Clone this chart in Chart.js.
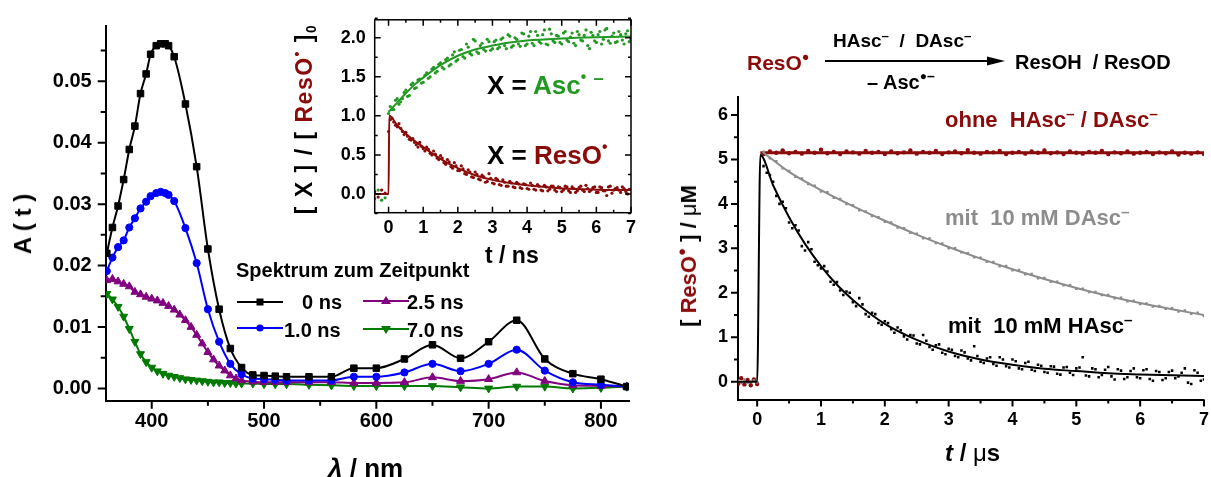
<!DOCTYPE html>
<html>
<head>
<meta charset="utf-8">
<script src="https://cdn.jsdelivr.net/npm/chart.js@4.4.1/dist/chart.umd.min.js"></script>
<style>
  body { margin: 0; background: #fff; width: 1211px; height: 477px; position: relative; overflow: hidden;
         font-family: "Liberation Sans", Arial, sans-serif; font-weight: bold; color: #000; }
  .box { position: absolute; }
  .t { position: absolute; white-space: nowrap; line-height: 1; font-weight: bold; }
  .rot { transform: translate(-50%, -50%) rotate(-90deg); }
  .red { color: #8b0a0a; }
  .up { position: relative; font-size: 0.7em; top: -0.55em; }
  .dot { position: relative; font-size: 0.6em; top: -0.75em; }
</style>
</head>
<body>
<canvas id="mainChart" class="box" style="left:0;top:0" width="660" height="477"></canvas>
<canvas id="insetChart" class="box" style="left:330px;top:0" width="320" height="270"></canvas>
<canvas id="kinChart" class="box" style="left:660px;top:0" width="559" height="477"></canvas>

<!-- main panel texts -->
<div class="t rot" style="left:23px;top:224px;font-size:24px">A ( t )</div>
<div class="t" style="left:328px;top:455px;font-size:26px"><i>λ</i> / nm</div>
<div class="t" style="left:236px;top:260px;font-size:20px">Spektrum zum Zeitpunkt</div>
<svg class="box" style="left:236px;top:294px" width="48" height="16"><line x1="1" y1="8" x2="47" y2="8" stroke="#000" stroke-width="2"/><rect x="20.5" y="4.5" width="7" height="7" fill="#000"/></svg>
<div class="t" style="left:302px;top:292px;font-size:20px">0 ns</div>
<svg class="box" style="left:236px;top:320px" width="48" height="16"><line x1="1" y1="8" x2="47" y2="8" stroke="#0000ff" stroke-width="2"/><circle cx="24" cy="8" r="3.6" fill="#0000ff"/></svg>
<div class="t" style="left:284px;top:320px;font-size:20px">1.0 ns</div>
<svg class="box" style="left:362px;top:293px" width="48" height="16"><line x1="1" y1="8" x2="47" y2="8" stroke="#800080" stroke-width="2"/><polygon points="24,3 29,11 19,11" fill="#800080"/></svg>
<div class="t" style="left:407px;top:292px;font-size:20px">2.5 ns</div>
<svg class="box" style="left:362px;top:321px" width="48" height="16"><line x1="1" y1="8" x2="47" y2="8" stroke="#007a00" stroke-width="2"/><polygon points="24,13 29,5 19,5" fill="#007a00"/></svg>
<div class="t" style="left:407px;top:320px;font-size:20px">7.0 ns</div>

<!-- inset texts -->
<div class="t rot" style="left:304px;top:119px;font-size:23px;letter-spacing:1.5px">[ X ] / [ <span class="red">ResO<span class="dot">•</span></span> ]<span style="font-size:0.6em;position:relative;top:0.3em">0</span></div>
<div class="t" style="left:485px;top:244px;font-size:23px">t / ns</div>
<div class="t" style="left:487px;top:72px;font-size:26px">X = <span style="color:#229922">Asc<span class="dot">•</span> <span class="up">–</span></span></div>
<div class="t" style="left:487px;top:142px;font-size:26px">X = <span class="red">ResO<span class="dot">•</span></span></div>

<!-- kinetics panel texts -->
<div class="t red" style="left:747px;top:52px;font-size:21px">ResO<span class="dot">●</span></div>
<div class="t" style="left:833px;top:31px;font-size:19px">HAsc<span class="up">–</span>&nbsp; / &nbsp;DAsc<span class="up">–</span></div>
<svg class="box" style="left:820px;top:54px" width="190" height="14"><line x1="5" y1="7" x2="172" y2="7" stroke="#000" stroke-width="2"/><polygon points="185,7 167,2.5 167,11.5" fill="#000"/></svg>
<div class="t" style="left:867px;top:72px;font-size:20px">– Asc<span class="dot">●</span><span class="up">–</span></div>
<div class="t" style="left:1015px;top:52px;font-size:20px">ResOH&nbsp; / ResOD</div>
<div class="t red" style="left:945px;top:109px;font-size:22px">ohne&nbsp; HAsc<span class="up">–</span> / DAsc<span class="up">–</span></div>
<div class="t" style="left:945px;top:207px;font-size:22px;color:#8c8c8c">mit&nbsp; 10 mM DAsc<span class="up">–</span></div>
<div class="t" style="left:948px;top:315px;font-size:22px">mit&nbsp; 10 mM HAsc<span class="up">–</span></div>
<div class="t rot" style="left:689px;top:256px;font-size:22px">[ <span class="red">ResO<span class="dot">●</span></span> ] / <span style="font-weight:normal">μ</span>M</div>
<div class="t" style="left:945px;top:441px;font-size:24px"><i>t</i> / <span style="font-weight:normal">μ</span>s</div>

<script>
// ---- spectra (A vs wavelength) ----
const lambdaA = [360, 365, 370, 375, 380, 385, 390, 395, 399, 404, 408, 412, 415, 420, 430, 440, 450, 460, 470, 480,
                 490, 500, 510, 520, 540, 560, 580, 600, 625, 650, 675, 700, 725, 750, 775, 800, 823];
const abs0ns = [0.0220, 0.0262, 0.0297, 0.0340, 0.0389, 0.0427, 0.0480, 0.0512, 0.0544, 0.0558, 0.0561, 0.0561, 0.0558, 0.0540,
                0.0463, 0.0361, 0.0227, 0.0129, 0.0065, 0.0034, 0.0022, 0.0021, 0.0020, 0.0019, 0.0019, 0.0019, 0.0033, 0.0033,
                0.0048, 0.0071, 0.0049, 0.0076, 0.0111, 0.0048, 0.0024, 0.0015, 0.0003];
const abs1ns = [0.0191, 0.0213, 0.0230, 0.0241, 0.0262, 0.0277, 0.0293, 0.0304, 0.0313, 0.0318, 0.0320, 0.0318, 0.0315, 0.0305,
                0.0261, 0.0204, 0.0129, 0.0076, 0.0040, 0.0023, 0.0016, 0.0015, 0.0014, 0.0013, 0.0013, 0.0013, 0.0019, 0.0019,
                0.0026, 0.0040, 0.0028, 0.0040, 0.0063, 0.0029, 0.0010, 0.0006, 0.0003];
const lambdaB = [360, 365, 370, 375, 380, 385, 390, 395, 400, 405, 410, 415, 420, 425, 430, 435, 440, 445, 450, 455, 460, 465,
                 470, 475, 480, 490, 500, 510, 520, 540, 560, 580, 600, 625, 650, 675, 700, 725, 750, 775, 800, 823];
const abs25ns = [0.0176, 0.0178, 0.0174, 0.0170, 0.0166, 0.0157, 0.0153, 0.0149, 0.0146, 0.0143, 0.0139, 0.0134, 0.0128, 0.0120,
                 0.0111, 0.0100, 0.0087, 0.0073, 0.0059, 0.0047, 0.0037, 0.0029, 0.0021, 0.0016, 0.0013, 0.0011, 0.0010, 0.0010,
                 0.0010, 0.0010, 0.0010, 0.0009, 0.0009, 0.0010, 0.0018, 0.0012, 0.0015, 0.0026, 0.0012, 0.0005, 0.0004, 0.0003];
const abs70ns = [0.0154, 0.0145, 0.0133, 0.0117, 0.0097, 0.0076, 0.0056, 0.0043, 0.0034, 0.0028, 0.0024, 0.0021, 0.0019, 0.0017,
                 0.0015, 0.0014, 0.0013, 0.0012, 0.0011, 0.0010, 0.0010, 0.0009, 0.0009, 0.0008, 0.0008, 0.0008, 0.0007, 0.0007,
                 0.0007, 0.0006, 0.0005, 0.0004, 0.0004, 0.0004, 0.0004, 0.0002, 0.0000, 0.0003, 0.0003, 0.0000, 0.0001, 0.0003];
const mainXTicks = [400, 500, 600, 700, 800];
const mainXMinor = [450, 550, 650, 750];
const mainYTicks = [0, 0.01, 0.02, 0.03, 0.04, 0.05];
const mainYMinor = [0.005, 0.015, 0.025, 0.035, 0.045, 0.055];

// ---- inset: [X]/[ResO]0 vs t / ns ----
const insetT = [-0.4, -0.3, -0.2, -0.1, 0,
  0.1, 0.2, 0.3, 0.4, 0.5, 0.6, 0.7, 0.8, 0.9, 1.0, 1.1, 1.2, 1.3, 1.4, 1.5, 1.6, 1.7, 1.8, 1.9, 2.0,
  2.1, 2.2, 2.3, 2.4, 2.5, 2.6, 2.7, 2.8, 2.9, 3.0, 3.1, 3.2, 3.3, 3.4, 3.5, 3.6, 3.7, 3.8, 3.9, 4.0,
  4.1, 4.2, 4.3, 4.4, 4.5, 4.6, 4.7, 4.8, 4.9, 5.0, 5.1, 5.2, 5.3, 5.4, 5.5, 5.6, 5.7, 5.8, 5.9, 6.0,
  6.1, 6.2, 6.3, 6.4, 6.5, 6.6, 6.7, 6.8, 6.9, 7.0];
const ascRel = [-0.06, 0.05, -0.08, -0.05, 1.03,
  1.08, 1.20, 1.15, 1.22, 1.33, 1.26, 1.42, 1.36, 1.47, 1.43, 1.55, 1.50, 1.62, 1.57, 1.68, 1.60, 1.74, 1.66, 1.82, 1.72,
  1.85, 1.74, 1.88, 1.78, 1.96, 1.80, 1.93, 1.83, 1.95, 1.86, 1.97, 1.88, 2.00, 1.86, 2.02, 1.90, 1.98, 1.89, 2.05, 1.92,
  2.08, 1.90, 2.03, 1.93, 2.10, 1.91, 2.05, 1.94, 2.02, 1.92, 2.08, 1.95, 2.06, 1.90, 2.04, 1.96, 2.10, 1.86, 2.03, 1.94,
  2.08, 1.98, 2.12, 1.93, 2.06, 1.95, 2.04, 1.92, 2.09, 1.98];
const resoRel = [0.03, -0.04, 0.05, 0.01, 0.80,
  0.97, 0.88, 0.90, 0.80, 0.79, 0.70, 0.71, 0.63, 0.66, 0.58, 0.60, 0.52, 0.55, 0.46, 0.49, 0.40, 0.44, 0.35, 0.40, 0.30,
  0.36, 0.26, 0.31, 0.22, 0.28, 0.19, 0.24, 0.15, 0.26, 0.14, 0.20, 0.12, 0.18, 0.10, 0.16, 0.09, 0.15, 0.08, 0.13, 0.07,
  0.14, 0.06, 0.12, 0.05, 0.11, 0.04, 0.10, 0.05, 0.09, 0.03, 0.10, 0.04, 0.09, 0.02, 0.08, 0.05, 0.11, 0.03, 0.08, 0.02,
  0.09, 0.04, -0.02, 0.10, 0.05, 0.08, 0.02, 0.07, 0.00, 0.06];
// second, interleaved sampling of the same traces
const insetT2 = [0.05, 0.15, 0.25, 0.35, 0.45, 0.55, 0.65, 0.75, 0.85, 0.95, 1.05, 1.15, 1.25, 1.35, 1.45, 1.55, 1.65, 1.75, 1.85, 1.95,
  2.05, 2.15, 2.25, 2.35, 2.45, 2.55, 2.65, 2.75, 2.85, 2.95, 3.05, 3.15, 3.25, 3.35, 3.45, 3.55, 3.65, 3.75, 3.85, 3.95,
  4.05, 4.15, 4.25, 4.35, 4.45, 4.55, 4.65, 4.75, 4.85, 4.95, 5.05, 5.15, 5.25, 5.35, 5.45, 5.55, 5.65, 5.75, 5.85, 5.95,
  6.05, 6.15, 6.25, 6.35, 6.45, 6.55, 6.65, 6.75, 6.85, 6.95];
const ascRel2 = [1.12, 1.08, 1.22, 1.18, 1.30, 1.25, 1.40, 1.35, 1.46, 1.42, 1.52, 1.48, 1.60, 1.55, 1.66, 1.62, 1.72, 1.64, 1.78, 1.70,
  1.84, 1.76, 1.92, 1.80, 1.98, 1.82, 1.90, 1.85, 1.98, 1.84, 1.95, 1.86, 1.98, 1.90, 2.04, 1.88, 2.00, 1.92, 2.06, 1.90,
  2.02, 1.93, 2.08, 1.95, 2.04, 1.92, 2.11, 1.96, 2.03, 1.94, 2.06, 1.97, 2.01, 1.93, 2.08, 1.97, 2.03, 1.90, 2.07, 1.96,
  2.04, 1.92, 2.10, 1.96, 2.02, 1.94, 2.08, 1.97, 2.05, 1.95];
const resoRel2 = [0.95, 0.92, 0.86, 0.84, 0.76, 0.74, 0.69, 0.66, 0.60, 0.61, 0.55, 0.57, 0.50, 0.51, 0.44, 0.46, 0.38, 0.41, 0.33, 0.36,
  0.30, 0.32, 0.25, 0.28, 0.21, 0.25, 0.18, 0.22, 0.16, 0.20, 0.13, 0.18, 0.11, 0.15, 0.10, 0.14, 0.08, 0.13, 0.07, 0.12,
  0.06, 0.11, 0.05, 0.10, 0.04, 0.09, 0.06, 0.10, 0.03, 0.08, 0.05, 0.09, 0.02, 0.07, 0.04, 0.10, 0.03, 0.07, 0.05, 0.09,
  0.02, 0.08, 0.04, 0.09, 0.01, 0.07, 0.05, 0.09, 0.03, 0.06];
const ascFitT = [0, 0.25, 0.5, 0.75, 1, 1.5, 2, 2.5, 3, 3.5, 4, 5, 6, 7];
const ascFit = [1.05, 1.17, 1.29, 1.40, 1.49, 1.65, 1.77, 1.85, 1.90, 1.94, 1.965, 1.99, 2.005, 2.015];
const resoFitT = [-0.4, 0, 0.02, 0.25, 0.5, 0.75, 1, 1.5, 2, 2.5, 3, 3.5, 4, 5, 6, 7];
const resoFit = [0, 0, 1.0, 0.88, 0.77, 0.68, 0.60, 0.45, 0.33, 0.24, 0.18, 0.14, 0.11, 0.07, 0.055, 0.05];
const insetXTicks = [0, 1, 2, 3, 4, 5, 6, 7];
const insetXMinor = [0.5, 1.5, 2.5, 3.5, 4.5, 5.5, 6.5];
const insetYTicks = [0, 0.5, 1.0, 1.5, 2.0];
const insetYMinor = [-0.25, 0.25, 0.75, 1.25, 1.75, 2.25];

// ---- right panel: [ResO] / uM vs t / us ----
const kinT = [-0.3, -0.25, -0.2, -0.15, -0.1, -0.05, 0,
  0.1, 0.2, 0.3, 0.4, 0.5, 0.6, 0.7, 0.8, 0.9, 1.0, 1.1, 1.2, 1.3, 1.4, 1.5, 1.6, 1.7, 1.8, 1.9, 2.0,
  2.1, 2.2, 2.3, 2.4, 2.5, 2.6, 2.7, 2.8, 2.9, 3.0, 3.1, 3.2, 3.3, 3.4, 3.5, 3.6, 3.7, 3.8, 3.9, 4.0,
  4.1, 4.2, 4.3, 4.4, 4.5, 4.6, 4.7, 4.8, 4.9, 5.0, 5.1, 5.2, 5.3, 5.4, 5.5, 5.6, 5.7, 5.8, 5.9, 6.0,
  6.1, 6.2, 6.3, 6.4, 6.5, 6.6, 6.7, 6.8, 6.9, 7.0];
const resoOhne = [-0.05, 0.08, -0.06, 0.04, -0.08, 0.05, -0.05,
  5.12, 5.18, 5.15, 5.20, 5.14, 5.17, 5.13, 5.19, 5.15, 5.22, 5.14, 5.17, 5.12, 5.18, 5.16, 5.13, 5.19, 5.15, 5.17, 5.12,
  5.18, 5.14, 5.16, 5.20, 5.13, 5.17, 5.15, 5.19, 5.12, 5.16, 5.18, 5.14, 5.21, 5.15, 5.13, 5.17, 5.16, 5.19, 5.12, 5.15,
  5.17, 5.13, 5.18, 5.15, 5.20, 5.14, 5.16, 5.12, 5.18, 5.15, 5.13, 5.17, 5.15, 5.19, 5.12, 5.16, 5.14, 5.18, 5.13, 5.15,
  5.17, 5.12, 5.16, 5.14, 5.18, 5.11, 5.15, 5.13, 5.16, 5.12];
const resoDAsc = [0.02, -0.03, 0.05, -0.02, 0.00, 0.03, -0.01,
  5.17, 5.03, 4.96, 4.80, 4.74, 4.61, 4.57, 4.45, 4.41, 4.28, 4.26, 4.14, 4.11, 4.00, 3.97, 3.86, 3.83, 3.73, 3.70, 3.60,
  3.58, 3.47, 3.45, 3.35, 3.33, 3.23, 3.22, 3.12, 3.11, 3.00, 3.00, 2.91, 2.89, 2.80, 2.79, 2.70, 2.69, 2.60, 2.60, 2.51,
  2.51, 2.42, 2.42, 2.33, 2.33, 2.25, 2.25, 2.17, 2.17, 2.09, 2.09, 2.02, 2.02, 1.95, 1.95, 1.88, 1.89, 1.81, 1.82, 1.75,
  1.76, 1.69, 1.70, 1.64, 1.65, 1.58, 1.60, 1.53, 1.55, 1.48];
const resoHAsc = [null, null, null, null, null, null, null,
  4.85, 4.65, 4.18, 4.05, 3.58, 3.52, 3.05, 3.14, 2.70, 2.55, 2.48, 2.18, 2.05, 2.03, 1.79, 1.88, 1.52, 1.55, 1.32, 1.36,
  1.18, 1.22, 1.02, 1.05, 0.86, 1.05, 0.78, 0.82, 0.65, 0.74, 0.58, 0.70, 0.52, 0.80, 0.45, 0.52, 0.40, 0.55, 0.35, 0.50,
  0.30, 0.42, 0.27, 0.38, 0.22, 0.35, 0.18, 0.32, 0.20, 0.30, 0.55, 0.12, 0.28, 0.15, 0.33, 0.05, 0.25, 0.10, 0.30, 0.08,
  0.28, 0.02, 0.22, 0.08, 0.25, 0.12, 0.30, -0.05, 0.20, 0.05];
const kinT2 = [0.15, 0.25, 0.35, 0.45, 0.55, 0.65, 0.75, 0.85, 0.95, 1.05, 1.15, 1.25, 1.35, 1.45, 1.55, 1.65, 1.75, 1.85, 1.95, 2.05,
  2.15, 2.25, 2.35, 2.45, 2.55, 2.65, 2.75, 2.85, 2.95, 3.05, 3.15, 3.25, 3.35, 3.45, 3.55, 3.65, 3.75, 3.85, 3.95, 4.05,
  4.15, 4.25, 4.35, 4.45, 4.55, 4.65, 4.75, 4.85, 4.95, 5.05, 5.15, 5.25, 5.35, 5.45, 5.55, 5.65, 5.75, 5.85, 5.95, 6.05,
  6.15, 6.25, 6.35, 6.45, 6.55, 6.65, 6.75, 6.85, 6.95];
const resoHAsc2 = [4.70, 4.50, 4.00, 3.90, 3.45, 3.40, 2.95, 2.98, 2.62, 2.60, 2.25, 2.24, 1.95, 2.00, 1.70, 1.74, 1.46, 1.52, 1.28, 1.32,
  1.10, 1.16, 0.95, 1.04, 0.84, 0.92, 0.72, 0.84, 0.62, 0.72, 0.55, 0.66, 0.48, 0.58, 0.42, 0.55, 0.36, 0.50, 0.32, 0.46,
  0.28, 0.45, 0.24, 0.36, 0.20, 0.34, 0.16, 0.33, 0.15, 0.32, 0.14, 0.30, 0.10, 0.27, 0.12, 0.28, 0.06, 0.24, 0.10, 0.26,
  0.06, 0.24, 0.04, 0.22, 0.08, 0.20, -0.02, 0.26, 0.02];
const hFitT = [-0.3, 0, 0.05, 0.25, 0.5, 0.75, 1, 1.25, 1.5, 1.75, 2, 2.5, 3, 3.5, 4, 4.5, 5, 5.5, 6, 6.5, 7];
const hFit = [0, 0, 5.10, 4.42, 3.70, 3.10, 2.60, 2.18, 1.84, 1.55, 1.30, 0.94, 0.68, 0.50, 0.38, 0.29, 0.24, 0.19, 0.165, 0.145, 0.13];
const dFitT = [0.1, 0.5, 1, 1.5, 2, 2.5, 3, 3.5, 4, 4.5, 5, 5.5, 6, 6.5, 7];
const dFit = [5.15, 4.72, 4.31, 3.95, 3.62, 3.31, 3.03, 2.77, 2.53, 2.31, 2.11, 1.93, 1.77, 1.63, 1.50];
const oFitT = [0.05, 7];
const oFit = [5.15, 5.15];
const kinXTicks = [0, 1, 2, 3, 4, 5, 6, 7];
const kinXMinor = [0.5, 1.5, 2.5, 3.5, 4.5, 5.5, 6.5];
const kinYTicks = [0, 1, 2, 3, 4, 5, 6];
const kinYMinor = [0.5, 1.5, 2.5, 3.5, 4.5, 5.5];

const DARK_RED = '#8b0a0a';
const fontStack = '"Liberation Sans", Arial, sans-serif';

const toPoints = (xs, ys) => xs.map((x, i) => ({ x: x, y: ys[i] })).filter(p => p.y !== null);
const tickFont = (size) => ({ family: fontStack, size: size, weight: 'bold' });

// draws major/minor tick marks (and an optional frame) from the chart's scales
const tickMarks = {
    id: 'tickMarks',
    afterDatasetsDraw(chart, args, opts) {
        const ctx = chart.ctx;
        const a = chart.chartArea;
        ctx.save();
        ctx.strokeStyle = '#000';
        ctx.lineWidth = opts.lineWidth || 1.5;
        if (opts.box) {
            ctx.strokeRect(a.left, a.top, a.right - a.left, a.bottom - a.top);
        }
        for (const s of opts.sets) {
            const sc = chart.scales[s.axis];
            ctx.beginPath();
            for (const v of s.values) {
                const p = sc.getPixelForValue(v);
                for (const side of s.sides) {
                    const d = s.inward ? s.len : -s.len;
                    if (side === 'bottom') { ctx.moveTo(p, a.bottom); ctx.lineTo(p, a.bottom - d); }
                    if (side === 'top') { ctx.moveTo(p, a.top); ctx.lineTo(p, a.top + d); }
                    if (side === 'left') { ctx.moveTo(a.left, p); ctx.lineTo(a.left + d, p); }
                    if (side === 'right') { ctx.moveTo(a.right, p); ctx.lineTo(a.right - d, p); }
                }
            }
            ctx.stroke();
        }
        ctx.restore();
    }
};

const makeScale = (min, max, ticks, fontSize, padding, fmt, fitSize, isX, showBorder) => ({
    type: 'linear',
    min: min,
    max: max,
    grid: { display: false, drawTicks: false },
    border: { display: showBorder, width: 2, color: '#000' },
    ticks: { font: tickFont(fontSize), color: '#000', padding: padding, maxRotation: 0, callback: fmt },
    afterBuildTicks: (s) => { s.ticks = ticks.map(v => ({ value: v })); },
    afterFit: (s) => { if (isX) { s.height = fitSize; } else { s.width = fitSize; } }
});

const baseOptions = (scales, padding, marks) => ({
    responsive: false,
    animation: false,
    layout: { padding: padding },
    scales: scales,
    plugins: { legend: { display: false }, tooltip: { enabled: false }, tickMarks: marks }
});

// ---- main spectra ----
const mainChart = new Chart(document.getElementById('mainChart'), {
    type: 'line',
    data: {
        datasets: [
            { data: toPoints(lambdaA, abs0ns), borderColor: '#000', backgroundColor: '#000', pointStyle: 'rect', pointRadius: 4.6 },
            { data: toPoints(lambdaA, abs1ns), borderColor: '#0000ff', backgroundColor: '#0000ff', pointStyle: 'circle', pointRadius: 3.6 },
            { data: toPoints(lambdaB, abs25ns), borderColor: '#800080', backgroundColor: '#800080', pointStyle: 'triangle', pointRadius: 4.6 },
            { data: toPoints(lambdaB, abs70ns), borderColor: '#007a00', backgroundColor: '#007a00', pointStyle: 'triangle', pointRotation: 180, pointRadius: 4.6 }
        ].map(d => Object.assign(d, { borderWidth: 2, pointBorderWidth: 1, cubicInterpolationMode: 'monotone' }))
    },
    options: baseOptions({
        x: makeScale(359, 825, mainXTicks, 20, 9, v => v, 76.3, true, true),
        y: makeScale(-0.002, 0.059, mainYTicks, 20, 14, v => v.toFixed(2), 105.7, false, true)
    }, { top: 15, right: 31, left: 0, bottom: 0 }, {
        lineWidth: 2,
        sets: [
            { axis: 'x', values: mainXTicks, sides: ['bottom'], len: 8 },
            { axis: 'x', values: mainXMinor, sides: ['bottom'], len: 5 },
            { axis: 'y', values: mainYTicks, sides: ['left'], len: 8 },
            { axis: 'y', values: mainYMinor, sides: ['left'], len: 5 }
        ]
    }),
    plugins: [tickMarks]
});

// ---- inset kinetics ----
const insetChart = new Chart(document.getElementById('insetChart'), {
    type: 'line',
    data: {
        datasets: [
            { data: toPoints(ascFitT, ascFit), borderColor: '#229922', borderWidth: 2, pointRadius: 0, cubicInterpolationMode: 'monotone' },
            { data: toPoints(resoFitT, resoFit), borderColor: DARK_RED, borderWidth: 2, pointRadius: 0, cubicInterpolationMode: 'monotone' },
            { data: toPoints(insetT, ascRel), showLine: false, pointRadius: 1.6, pointBorderWidth: 0, backgroundColor: '#229922' },
            { data: toPoints(insetT2, ascRel2), showLine: false, pointRadius: 1.6, pointBorderWidth: 0, backgroundColor: '#229922' },
            { data: toPoints(insetT, resoRel), showLine: false, pointRadius: 1.6, pointBorderWidth: 0, backgroundColor: DARK_RED },
            { data: toPoints(insetT2, resoRel2), showLine: false, pointRadius: 1.6, pointBorderWidth: 0, backgroundColor: DARK_RED }
        ]
    },
    options: baseOptions({
        x: makeScale(-0.4, 7, insetXTicks, 18, 5, v => v, 57.3, true, false),
        y: makeScale(-0.24, 2.23, insetYTicks, 18, 9, v => v.toFixed(1), 44.7, false, false)
    }, { top: 14, right: 19, left: 0, bottom: 0 }, {
        lineWidth: 1.5,
        box: true,
        sets: [
            { axis: 'x', values: insetXTicks, sides: ['bottom', 'top'], len: 6, inward: true },
            { axis: 'x', values: insetXMinor, sides: ['bottom', 'top'], len: 3, inward: true },
            { axis: 'y', values: insetYTicks, sides: ['left', 'right'], len: 6, inward: true },
            { axis: 'y', values: insetYMinor, sides: ['left', 'right'], len: 3, inward: true }
        ]
    }),
    plugins: [tickMarks]
});

// ---- right kinetics ----
const kinChart = new Chart(document.getElementById('kinChart'), {
    type: 'line',
    data: {
        datasets: [
            { data: toPoints(hFitT, hFit), borderColor: '#000', borderWidth: 2, pointRadius: 0, cubicInterpolationMode: 'monotone' },
            { data: toPoints(kinT, resoHAsc), showLine: false, pointStyle: 'rect', pointRadius: 1.8, pointBorderWidth: 0, backgroundColor: '#000' },
            { data: toPoints(kinT2, resoHAsc2), showLine: false, pointStyle: 'rect', pointRadius: 1.8, pointBorderWidth: 0, backgroundColor: '#000' },
            { data: toPoints(dFitT, dFit), borderColor: '#8c8c8c', borderWidth: 2, pointRadius: 0, cubicInterpolationMode: 'monotone' },
            { data: toPoints(kinT, resoDAsc), showLine: false, pointStyle: 'rect', pointRadius: 1.8, pointBorderWidth: 0, backgroundColor: '#8c8c8c' },
            { data: toPoints(oFitT, oFit), borderColor: DARK_RED, borderWidth: 3, pointRadius: 0 },
            { data: toPoints(kinT, resoOhne), showLine: false, pointRadius: 2.2, pointBorderWidth: 0, backgroundColor: DARK_RED }
        ]
    },
    options: baseOptions({
        x: makeScale(-0.3, 7, kinXTicks, 18, 10, v => v, 77.5, true, true),
        y: makeScale(-0.4, 6.4, kinYTicks, 18, 10, v => v, 78, false, true)
    }, { top: 97.2, right: 6, left: 0, bottom: 0 }, {
        lineWidth: 2,
        sets: [
            { axis: 'x', values: kinXTicks, sides: ['bottom'], len: 7 },
            { axis: 'x', values: kinXMinor, sides: ['bottom'], len: 4 },
            { axis: 'y', values: kinYTicks, sides: ['left'], len: 7 },
            { axis: 'y', values: kinYMinor, sides: ['left'], len: 4 }
        ]
    }),
    plugins: [tickMarks]
});
</script>
</body>
</html>
